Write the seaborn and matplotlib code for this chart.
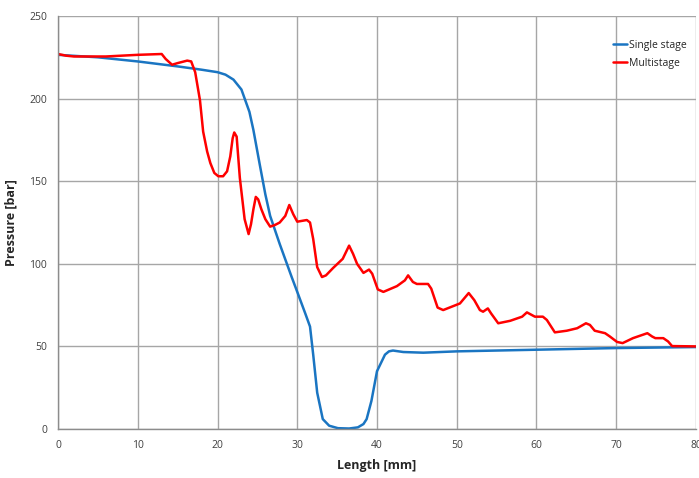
import pandas as pd
import numpy as np
import matplotlib
matplotlib.use('Agg')
import matplotlib.pyplot as plt
import seaborn as sns

# ── Data ──────────────────────────────────────────────────
single_x = [0, 5, 10, 15, 18, 20, 21, 22, 23, 24, 24.5, 25.3, 26, 26.6, 27.8,
            29.3, 30, 31, 31.6, 32, 32.5, 33.2, 34, 35.1, 36.5, 37.6, 38.3,
            38.7, 39.3, 40, 40.5, 41, 41.5, 42, 43.3, 45.8, 50, 55, 60, 70, 80]
single_p = [226.5, 225, 222.5, 219.5, 217.5, 216, 214.5, 211.5, 205.5, 192,
            181, 160, 142, 129, 112, 92, 83, 70, 62, 45, 22, 6, 2, 0.5, 0.3,
            1, 3, 6, 17, 35, 40, 45, 47, 47.5, 46.6, 46.2, 47, 47.5, 48, 49,
            49.6]

multi_x = [0, 1, 2, 4, 6, 8, 10, 13, 13.5, 14.3, 15, 16.2, 16.7, 17.2, 17.8,
           18.2, 18.7, 19.1, 19.6, 20.1, 20.7, 21.2, 21.6, 21.9, 22.1, 22.4,
           22.8, 23.4, 23.9, 24.2, 24.5, 24.8, 25.1, 25.5, 26, 26.6, 27.2,
           27.8, 28.5, 29, 29.5, 30, 31.2, 31.6, 32, 32.5, 33.1, 33.6, 34.5,
           35.7, 36.2, 36.5, 37, 37.5, 38.3, 39, 39.4, 40.1, 40.8, 42.5, 43.5,
           43.9, 44.5, 45, 46.4, 46.8, 47.6, 48.3, 50.4, 51.5, 52.2, 52.9,
           53.3, 53.9, 54.3, 55.2, 56.7, 58.2, 58.8, 59.8, 60.8, 61.3, 62.3,
           63.8, 65.1, 66.2, 66.7, 67.3, 68.6, 69.2, 70.1, 70.8, 72.1, 73.9,
           74.5, 74.9, 75.9, 76.5, 77, 80]
multi_p = [227, 226, 225.5, 225.5, 225.5, 226, 226.5, 227, 224, 220.5, 221.5,
           223, 222.5, 216, 199, 180, 168, 161, 155, 153, 153, 156, 165, 176,
           179.5, 177, 152, 127, 118, 124, 133, 140.5, 139, 133, 127, 122.5,
           123.5, 125, 129, 135.6, 130, 125.5, 126.5, 125, 115, 98, 92, 93,
           97.5, 103, 108, 111, 106, 100, 94.5, 96.5, 94, 84.5, 83, 86.5, 90,
           93, 89, 87.8, 87.8, 85, 73.5, 72, 76, 82.3, 78, 72, 71, 73, 70, 64,
           65.5, 68, 70.6, 68, 68, 66, 58.5, 59.5, 61, 64, 63, 59.5, 58, 56,
           52.7, 52, 55, 58, 56, 55, 55, 53, 50.2, 50]

x_ticks = [0, 10, 20, 30, 40, 50, 60, 70, 80]
y_ticks = [0, 50, 100, 150, 200, 250]

df = pd.concat([
    pd.DataFrame({'Length': single_x, 'Pressure': single_p, 'Series': 'Single stage'}),
    pd.DataFrame({'Length': multi_x, 'Pressure': multi_p, 'Series': 'Multistage'}),
], ignore_index=True)

# ── Style ────────────────────────────────────────────────
sns.set_style('white')
plt.rcParams['font.family'] = ['Open Sans', 'DejaVu Sans']

fig = plt.figure(figsize=(6.99, 4.78), dpi=100)
ax = fig.add_axes([0.083, 0.1025, 0.9127, 0.864])

sns.lineplot(data=df, x='Length', y='Pressure', hue='Series', sort=False,
             palette={'Single stage': '#1a75c2', 'Multistage': '#ff0000'},
             linewidth=1.8, ax=ax, estimator=None)

ax.set_xlim(0, 80)
ax.set_ylim(0, 250)
ax.set_xticks(x_ticks)
ax.set_yticks(y_ticks)
ax.grid(True, color='#a6a6a6', linewidth=1.0)
ax.set_axisbelow(True)
for s in ['top', 'right']:
    ax.spines[s].set_visible(False)
for s in ['left', 'bottom']:
    ax.spines[s].set_color('#8c8c8c')
    ax.spines[s].set_linewidth(1.0)
ax.tick_params(axis='both', labelsize=7.5, colors='#404040', length=4,
               width=0.8, direction='out', pad=4)
ax.tick_params(axis='both', color='#8c8c8c')

ax.set_xlabel('Length [mm]', fontsize=9, fontweight='bold', labelpad=6)
ax.set_ylabel('Pressure [bar]', fontsize=9, fontweight='bold', labelpad=8)

leg = ax.legend(loc='upper right', bbox_to_anchor=(1.0, 0.965), frameon=False,
                fontsize=7.5, handlelength=1.3, handletextpad=0.2,
                labelspacing=0.7)
for line in leg.get_lines():
    line.set_linewidth(1.8)

fig.savefig('out.png', dpi=100, facecolor='white')
